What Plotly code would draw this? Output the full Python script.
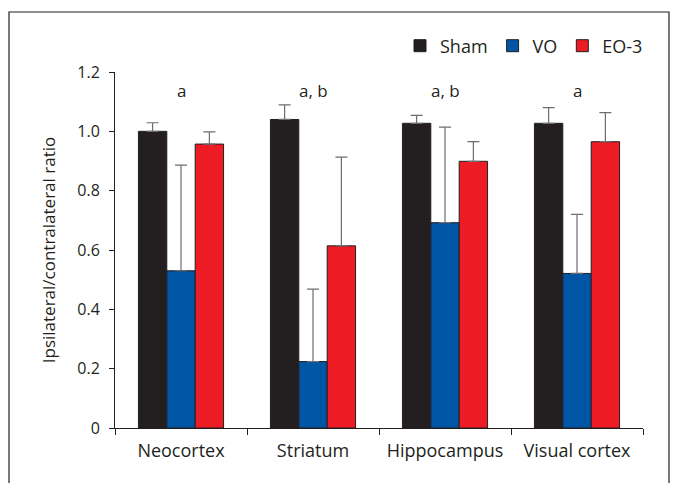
import plotly.graph_objects as go

categories = ["Neocortex", "Striatum", "Hippocampus", "Visual cortex"]
sham = [1.0, 1.04, 1.027, 1.027]
sham_err = [0.029, 0.049, 0.027, 0.053]
vo = [0.530, 0.224, 0.692, 0.521]
vo_err = [0.356, 0.244, 0.322, 0.199]
eo3 = [0.957, 0.614, 0.899, 0.965]
eo3_err = [0.041, 0.299, 0.066, 0.098]
sig_labels = ["a", "a, b", "a, b", "a"]
sig_y = 1.137

FONT = "Open Sans"
W, H = 675, 483
L, R, T, B = 115, 32, 72, 55
pw, ph = W - L - R, H - T - B

fig = go.Figure()
series = [("Sham", sham, sham_err, "#231f20"),
          ("VO", vo, vo_err, "#0055a5"),
          ("EO-3", eo3, eo3_err, "#ed1c24")]
for name, vals, err, col in series:
    fig.add_trace(go.Bar(
        name=name, x=categories, y=vals,
        marker=dict(color=col, line=dict(color="#231f20", width=1)),
        error_y=dict(type="data", symmetric=False, array=err,
                     arrayminus=[0] * len(err), color="#6d6e71",
                     thickness=1.2, width=6),
    ))

for c, s in zip(categories, sig_labels):
    fig.add_annotation(x=c, y=sig_y, text=s, showarrow=False,
                       font=dict(family=FONT, size=17, color="#231f20"))

# outer frame
fig.add_shape(type="rect", xref="paper", yref="paper",
              x0=(9 - L) / pw, x1=(669 - L) / pw,
              y0=(H - B - 495) / ph, y1=(H - B - 12) / ph,
              line=dict(color="#231f20", width=1.2), fillcolor="rgba(0,0,0,0)")

fig.update_layout(
    width=W, height=H,
    margin=dict(l=L, r=R, t=T, b=B),
    paper_bgcolor="white", plot_bgcolor="white",
    barmode="group", bargap=0.355, bargroupgap=0,
    font=dict(family=FONT, size=16, color="#231f20"),
    showlegend=True,
    legend=dict(orientation="h", x=(648 - L) / pw, xanchor="right",
                y=(H - B - 46) / ph, yanchor="middle",
                font=dict(family=FONT, size=18, color="#231f20"),
                itemwidth=30, bgcolor="rgba(0,0,0,0)"),
    xaxis=dict(range=[-0.5, 3.5], showline=True, linecolor="#231f20",
               linewidth=1, ticks="outside", tickson="boundaries",
               ticklen=6, tickcolor="#231f20", showgrid=False,
               ticklabelstandoff=6,
               tickfont=dict(family=FONT, size=18, color="#231f20")),
    yaxis=dict(range=[0, 1.2], tickvals=[0, 0.2, 0.4, 0.6, 0.8, 1.0, 1.2],
               ticktext=["0", "0.2", "0.4", "0.6", "0.8", "1.0", "1.2"],
               showline=True, linecolor="#231f20", linewidth=1,
               ticks="outside", ticklen=5, tickcolor="#231f20",
               showgrid=False, zeroline=False, ticklabelstandoff=6,
               tickfont=dict(family=FONT, size=16, color="#231f20"),
               title=dict(text="Ipsilateral/contralateral ratio", standoff=17,
                          font=dict(family=FONT, size=17, color="#231f20"))),
)

fig.write_html("out.html", config={"displayModeBar": False},
               post_script="document.body.style.margin='0';")
